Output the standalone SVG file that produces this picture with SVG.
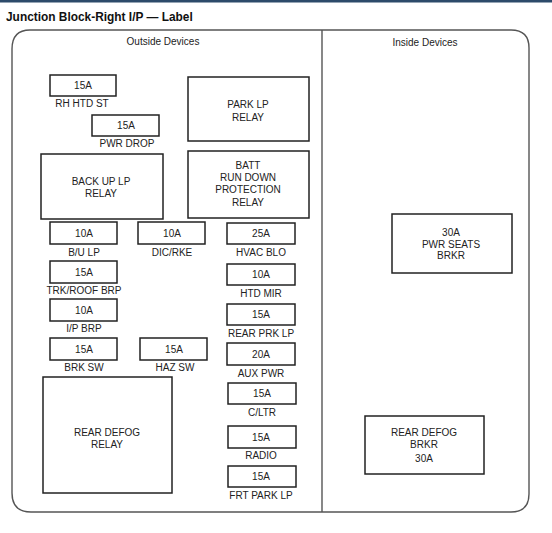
<svg xmlns="http://www.w3.org/2000/svg" width="552" height="533" viewBox="0 0 552 533">
<style>
text{font-family:"Liberation Sans",Arial,sans-serif;font-size:10px;fill:#222;text-anchor:middle}
.title{font-size:11.9px;font-weight:bold;text-anchor:start;fill:#111}
.b{fill:#fff;stroke:#222;stroke-width:1.5}
.frame{fill:none;stroke:#555;stroke-width:1.4}
</style>
<rect x="0" y="0" width="552" height="533" fill="#fff"/>
<rect x="0" y="0" width="552" height="2.5" fill="#2d4a6a"/>
<text class="title" x="6" y="21">Junction Block-Right I/P — Label</text>
<g id="frame">
<path class="frame" d="M30,30 H511 Q529,30 529,48 V494 Q529,512 511,512 H31 Q12,512 12,493 V49 Q12,30 30,30 Z"/>
<line class="frame" x1="322" y1="30" x2="322" y2="512"/>
<text x="163" y="45">Outside Devices</text>
<text x="425" y="46">Inside Devices</text>
</g>
<g id="rh-htd-st"><rect class="b" x="50" y="75" width="66" height="21"/><text x="83" y="89">15A</text><text x="82" y="107">RH HTD ST</text></g>
<g id="pwr-drop"><rect class="b" x="92" y="115" width="67" height="21"/><text x="126" y="129">15A</text><text x="127" y="147">PWR DROP</text></g>
<g id="back-up-lp-relay"><rect class="b" x="41" y="154" width="122" height="65"/><text x="101" y="185">BACK UP LP</text><text x="101" y="197">RELAY</text></g>
<g id="park-lp-relay"><rect class="b" x="188" y="77" width="121" height="64"/><text x="248" y="108">PARK LP</text><text x="248" y="121">RELAY</text></g>
<g id="batt-relay"><rect class="b" x="188" y="151" width="121" height="67"/><text x="248" y="169">BATT</text><text x="248" y="181">RUN DOWN</text><text x="248" y="193">PROTECTION</text><text x="248" y="206">RELAY</text></g>
<g id="bu-lp"><rect class="b" x="50" y="222" width="67" height="22"/><text x="84" y="237">10A</text><text x="84" y="256">B/U LP</text></g>
<g id="dic-rke"><rect class="b" x="138" y="222" width="67" height="22"/><text x="172" y="237">10A</text><text x="172" y="256">DIC/RKE</text></g>
<g id="hvac-blo"><rect class="b" x="227" y="223" width="68" height="21"/><text x="261" y="237">25A</text><text x="261" y="256">HVAC BLO</text></g>
<g id="trk-roof-brp"><rect class="b" x="50" y="261" width="67" height="22"/><text x="84" y="276">15A</text><text x="84" y="294">TRK/ROOF BRP</text></g>
<g id="htd-mir"><rect class="b" x="227" y="264" width="68" height="21"/><text x="261" y="278">10A</text><text x="261" y="297">HTD MIR</text></g>
<g id="ip-brp"><rect class="b" x="50" y="299" width="67" height="22"/><text x="84" y="314">10A</text><text x="84" y="332">I/P BRP</text></g>
<g id="rear-prk-lp"><rect class="b" x="227" y="304" width="68" height="21"/><text x="261" y="318">15A</text><text x="261" y="337">REAR PRK LP</text></g>
<g id="brk-sw"><rect class="b" x="50" y="338" width="67" height="22"/><text x="84" y="353">15A</text><text x="84" y="371">BRK SW</text></g>
<g id="haz-sw"><rect class="b" x="140" y="338" width="67" height="22"/><text x="174" y="353">15A</text><text x="175" y="371">HAZ SW</text></g>
<g id="aux-pwr"><rect class="b" x="227" y="343" width="68" height="22"/><text x="261" y="358">20A</text><text x="261" y="377">AUX PWR</text></g>
<g id="rear-defog-relay"><rect class="b" x="43" y="377" width="129" height="116"/><text x="107" y="436">REAR DEFOG</text><text x="107" y="448">RELAY</text></g>
<g id="c-ltr"><rect class="b" x="228" y="383" width="68" height="21"/><text x="262" y="397">15A</text><text x="262" y="416">C/LTR</text></g>
<g id="radio"><rect class="b" x="228" y="426" width="68" height="22"/><text x="261" y="441">15A</text><text x="261" y="459">RADIO</text></g>
<g id="frt-park-lp"><rect class="b" x="228" y="466" width="68" height="21"/><text x="261" y="480">15A</text><text x="261" y="499">FRT PARK LP</text></g>
<g id="pwr-seats-brkr"><rect class="b" x="392" y="214" width="120" height="59"/><text x="451" y="236">30A</text><text x="451" y="248">PWR SEATS</text><text x="451" y="259">BRKR</text></g>
<g id="rear-defog-brkr"><rect class="b" x="365" y="416" width="119" height="58"/><text x="424" y="436">REAR DEFOG</text><text x="424" y="448">BRKR</text><text x="424" y="462">30A</text></g>
<g id="connectors"/>
</svg>
